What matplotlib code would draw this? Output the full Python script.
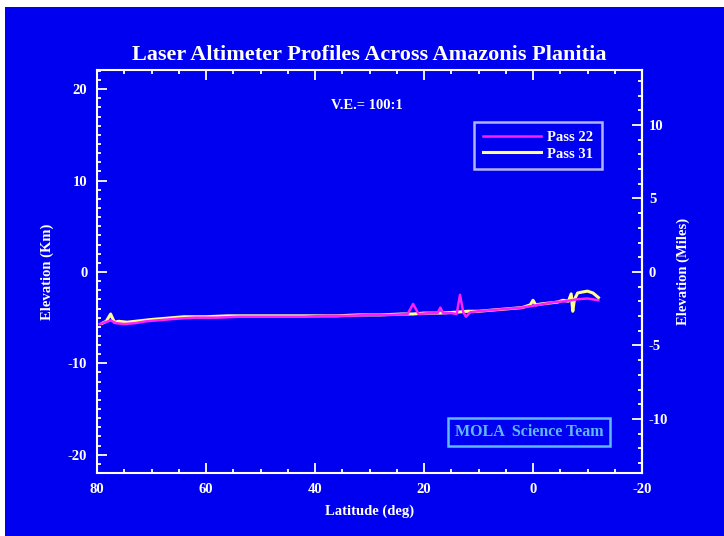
import matplotlib
matplotlib.use("Agg")
import matplotlib.pyplot as plt
from matplotlib.patches import Rectangle
from matplotlib.ticker import MultipleLocator

plt.rcParams['font.family'] = ['Liberation Serif', 'DejaVu Serif']
plt.rcParams['font.weight'] = 'bold'
plt.rcParams['axes.titleweight'] = 'bold'
plt.rcParams['axes.labelweight'] = 'bold'
plt.rcParams['axes.unicode_minus'] = False

BLUE = '#0000F0'
FG = 'white'

# Pass 22 (magenta) - latitude (deg) / elevation (km)
lat22 = [79.5, 78.5, 77.5, 76.5, 75.0, 73.0, 71.0, 69.0, 67.0, 65.0, 62.0, 58.0,
         54.0, 50.0, 46.0, 42.0, 38.0, 34.0, 30.0, 26.0, 23.0, 22.0, 21.0, 19.0,
         17.5, 17.0, 16.5, 15.0, 14.0, 13.4, 12.8, 12.3, 11.5, 10.0, 8.0, 6.0,
         4.0, 2.0, 0.0, -2.0, -4.0, -6.0, -8.0, -10.0, -12.0]
elev22 = [-5.7, -5.5, -5.3, -5.6, -5.7, -5.6, -5.4, -5.3, -5.2, -5.1, -5.0, -5.0,
          -4.9, -4.9, -4.9, -4.9, -4.8, -4.8, -4.7, -4.7, -4.6, -3.5, -4.6, -4.5,
          -4.5, -3.9, -4.5, -4.5, -4.6, -2.5, -4.4, -4.9, -4.4, -4.3, -4.2, -4.1,
          -4.0, -3.9, -3.7, -3.5, -3.3, -3.2, -3.0, -2.9, -3.1]

# Pass 31 (pale yellow)
lat31 = [79.0, 78.3, 77.8, 77.5, 77.2, 76.8, 76.0, 74.5, 73.0, 71.5, 70.0, 68.0,
         66.0, 64.0, 62.0, 60.0, 56.0, 52.0, 48.0, 44.0, 40.0, 36.0, 32.0, 28.0,
         24.0, 22.0, 20.0, 17.0, 14.0, 12.0, 10.0, 8.0, 6.0, 4.0, 2.0, 0.5, 0.0,
         -0.5, -1.5, -3.0, -4.5, -5.5, -6.5, -7.0, -7.3, -7.6, -8.2, -9.0, -10.0,
         -11.0, -12.0]
elev31 = [-5.6, -5.4, -4.9, -4.6, -5.0, -5.5, -5.4, -5.5, -5.4, -5.3, -5.2, -5.1,
          -5.0, -4.9, -4.9, -4.9, -4.8, -4.8, -4.8, -4.8, -4.8, -4.8, -4.7, -4.7,
          -4.6, -4.6, -4.5, -4.5, -4.4, -4.3, -4.3, -4.2, -4.1, -4.0, -3.9, -3.6,
          -3.1, -3.6, -3.5, -3.4, -3.3, -3.1, -3.2, -2.4, -4.3, -3.0, -2.3, -2.2,
          -2.1, -2.3, -2.8]

KM_PER_MI = 1.609

fig = plt.figure(figsize=(7.24, 5.36), dpi=100)
fig.patch.set_facecolor('white')
fig.patches.append(Rectangle((5 / 724, -0.01), 1, 1.01 - 7 / 536, transform=fig.transFigure,
                             facecolor=BLUE, edgecolor='none', zorder=-10))

ax = fig.add_axes([97 / 724, 1 - 473 / 536, 545 / 724, 403 / 536])
ax.set_facecolor(BLUE)

ax.plot(lat31, elev31, color='#FFFF90', lw=2.2, label='Pass 31', zorder=3)
ax.plot(lat22, elev22, color='#FF20FF', lw=1.8, label='Pass 22', zorder=4)

ax.set_xlim(80, -20)
ax.set_ylim(-22.0, 22.1)

ax.xaxis.set_major_locator(MultipleLocator(20))
ax.xaxis.set_minor_locator(MultipleLocator(5))
ax.yaxis.set_major_locator(MultipleLocator(10))
ax.yaxis.set_minor_locator(MultipleLocator(1))
ax.tick_params(which='both', direction='in', colors=FG, top=True, bottom=True,
               left=True, right=False, width=1.3, labelsize=10.5)
ax.tick_params(which='major', length=7, pad=7)
ax.tick_params(which='minor', length=3)
for s in ax.spines.values():
    s.set_color(FG)
    s.set_linewidth(1.5)

sec = ax.secondary_yaxis('right', functions=(lambda k: k / KM_PER_MI,
                                             lambda m: m * KM_PER_MI))
sec.yaxis.set_major_locator(MultipleLocator(5))
sec.yaxis.set_minor_locator(MultipleLocator(1))
sec.tick_params(which='both', direction='in', colors=FG, width=1.3, labelsize=10.5)
sec.tick_params(which='major', length=7, pad=5)
sec.tick_params(which='minor', length=3)
sec.spines['right'].set_color(FG)
sec.spines['right'].set_linewidth(1.5)
sec.set_ylabel('Elevation (Miles)', color=FG, fontsize=10.5, labelpad=6)

ax.set_xlabel('Latitude (deg)', color=FG, fontsize=10.5, labelpad=6)
ax.set_ylabel('Elevation (Km)', color=FG, fontsize=10.5, labelpad=10)
ax.set_title('Laser Altimeter Profiles Across Amazonis Planitia', color=FG,
             fontsize=16, pad=7)

ax.text(0.495, 0.913, 'V.E.= 100:1', transform=ax.transAxes, color=FG,
        fontsize=10.5, ha='center', va='center')

handles, labels = ax.get_legend_handles_labels()
leg = ax.legend(handles[::-1], labels[::-1], loc='upper left',
                bbox_to_anchor=(0.679, 0.888), fontsize=10.5, handlelength=4.0,
                frameon=True, fancybox=False, borderpad=0.6, labelspacing=0.2,
                handletextpad=0.4)
leg.get_frame().set_facecolor(BLUE)
leg.get_frame().set_edgecolor('#E0E0FF')
leg.get_frame().set_linewidth(1.8)
for t in leg.get_texts():
    t.set_color(FG)

ax.text(0.793, 0.102, 'MOLA  Science Team', transform=ax.transAxes,
        color='#60B8FF', fontsize=11.5, ha='center', va='center',
        bbox=dict(boxstyle='square,pad=0.4', facecolor=BLUE,
                  edgecolor='#60B8FF', linewidth=1.8))

fig.savefig('out.png', dpi=100, facecolor=fig.get_facecolor())
